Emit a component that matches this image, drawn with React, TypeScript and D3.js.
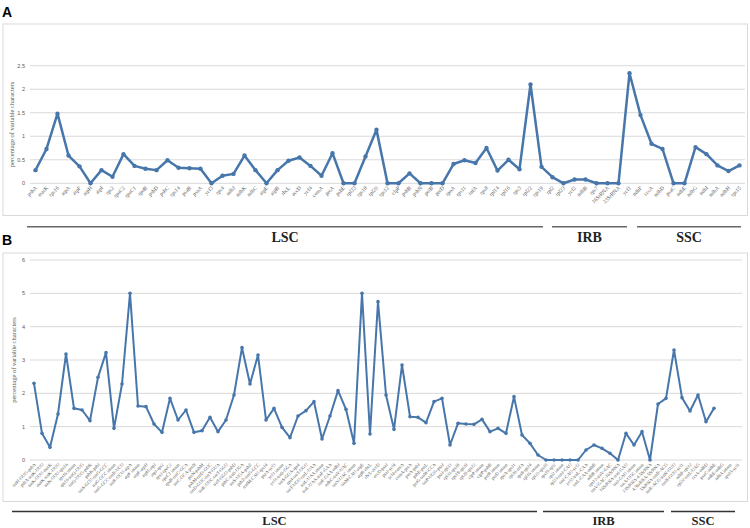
import React from 'react';
import * as d3 from 'd3';

// panel A: genes
const genesA = ['psbA', 'matK', 'rps16', 'atpA', 'atpF', 'atpH', 'atpI', 'rps2', 'rpoC2', 'rpoC1', 'rpoB', 'psbD', 'psbC', 'rps14', 'psaB', 'psaA', 'ycf3', 'rps4', 'ndhJ', 'ndhK', 'ndhC', 'atpE', 'atpB', 'rbcL', 'accD', 'ycf4', 'cemA', 'petA', 'psbE', 'rpl33', 'rps18', 'rpl20', 'rps12', 'clpP', 'psbB', 'psbN', 'petB', 'petD', 'rpoA', 'rps11', 'infA', 'rps8', 'rpl14', 'rpl16', 'rps3', 'rpl22', 'rps19', 'rpl2', 'rpl23', 'ycf2', 'ndhB', 'rps7', '16SrRNA', '23SrRNA', 'ycf1', 'ndhF', 'ccsA', 'ndhD', 'psaC', 'ndhE', 'ndhG', 'ndhI', 'ndhA', 'ndhH', 'rps15'];
const valuesA = [0.28, 0.73, 1.48, 0.59, 0.36, 0, 0.28, 0.14, 0.62, 0.37, 0.31, 0.28, 0.49, 0.33, 0.32, 0.31, 0, 0.16, 0.2, 0.59, 0.28, 0, 0.28, 0.48, 0.55, 0.37, 0.16, 0.64, 0, 0, 0.57, 1.14, 0, 0, 0.21, 0, 0, 0, 0.41, 0.49, 0.43, 0.75, 0.27, 0.5, 0.3, 2.1, 0.35, 0.13, 0, 0.08, 0.08, 0, 0, 0, 2.34, 1.45, 0.84, 0.73, 0, 0, 0.77, 0.62, 0.38, 0.26, 0.38];
const ticksA = [0, 0.5, 1, 1.5, 2, 2.5];

// panel B: intergenic spacers and introns
const regionsB = ['trnH-GUG-psbA', 'psbA-trnK-UUU', 'trnK-UUU-matK', 'matK-trnK-UUU', 'trnK-UUU-rps16', 'rps16 intron', 'rps16-trnQ-UUG', 'trnQ-UUG-psbK', 'psbK-psbI', 'trnS-GCU-trnG-GCC', 'trnG-GCC intron', 'trnG-GCC-trnR-UCU', 'trnR-UCU-atpA', 'atpF intron', 'atpF-atpH', 'atpH-atpI', 'atpI-rps2', 'rps2-rpoC2', 'rpoC1 intron', 'rpoB-trnC-GCA', 'trnC-GCA-petN', 'petN-psbM', 'psbM-trnD-GUC', 'trnD-GUC-trnY-GUA', 'trnE-UUC-trnT-GGU', 'trnT-GGU-psbD', 'psbC-trnS-UGA', 'trnS-UGA-psbZ', 'psbZ-trnG-GCC', 'trnfM-CAU-rps14', 'psaA-ycf3', 'ycf3 intron', 'ycf3-trnS-GGA', 'trnS-GGA-rps4', 'rps4-trnT-UGU', 'trnT-UGU-trnL-UAA', 'trnL-UAA intron', 'trnL-UAA-trnF-GAA', 'trnF-GAA-ndhJ', 'ndhC-trnV-UAC', 'trnV-UAC intron', 'trnM-CAU-atpE', 'atpB-rbcL', 'rbcL-accD', 'accD-psaI', 'psaI-ycf4', 'ycf4-cemA', 'cemA-petA', 'petA-psbJ', 'psbE-petL', 'petG-trnW-CCA', 'trnP-UGG-psaJ', 'psaJ-rpl33', 'rpl33-rps18', 'rps18-rpl20', 'rpl20-rps12', 'clpP intron', 'clpP-psbB', 'petB intron', 'petD intron', 'rpoA-rps11', 'rpl36-infA', 'rps8-rpl14', 'rpl16 intron', 'rpl22-rps19', 'rps19-rpl2', 'rpl2 intron', 'rpl23-trnI-CAU', 'trnI-CAU-ycf2', 'ycf2-trnL-CAA', 'trnL-CAA-ndhB', 'ndhB intron', 'rps12-trnV-GAC', 'trnV-GAC-16SrRNA', '16SrRNA-trnI-GAU', 'trnI-GAU intron', 'trnA-UGC intron', '23SrRNA-4.5SrRNA', '4.5SrRNA-5SrRNA', '5SrRNA-trnR-ACG', 'trnR-ACG-trnN-GUU', 'trnN-GUU-ycf1', 'ndhF-rpl32', 'rpl32-trnL-UAG', 'ccsA-ndhD', 'psaC-ndhE', 'ndhE-ndhG', 'ndhA intron', 'rps15-ycf1'];
const valuesB = [2.3, 0.8, 0.38, 1.38, 3.18, 1.55, 1.5, 1.18, 2.48, 3.22, 0.95, 2.28, 5.0, 1.62, 1.6, 1.08, 0.83, 1.85, 1.2, 1.5, 0.83, 0.88, 1.28, 0.85, 1.2, 1.95, 3.37, 2.28, 3.15, 1.2, 1.55, 0.98, 0.67, 1.32, 1.48, 1.75, 0.63, 1.32, 2.08, 1.52, 0.5, 5.0, 0.78, 4.75, 1.95, 0.92, 2.85, 1.3, 1.28, 1.12, 1.75, 1.85, 0.45, 1.1, 1.08, 1.07, 1.22, 0.85, 0.95, 0.8, 1.9, 0.75, 0.5, 0.15, 0, 0, 0, 0, 0, 0.3, 0.45, 0.35, 0.2, 0, 0.8, 0.45, 0.85, 0, 1.68, 1.85, 3.3, 1.87, 1.47, 1.95, 1.15, 1.55];
const ticksB = [0, 1, 2, 3, 4, 5, 6];

const sections = ['LSC', 'IRB', 'SSC'];
// x extent of each section bar, panel A and B
const sectionSpanA = [[27, 543], [552, 627], [637, 741]];
const sectionSpanB = [[12, 537], [543, 664], [671, 735]];

const BLUE = '#4776ab';
const GRID = '#d9d9d9';
const TXT = '#595959';
const TITLE = 'percentage of variable characters';

function Panel({ names, values, ticks, yRange, xRange, frame, label, labelY, lw, r, fs, titleX, lineColor, sectionY, spans, secFs, secDy }) {
  const x = d3.scaleBand().domain(names).range(xRange);
  const y = d3.scaleLinear().domain([ticks[0], ticks[ticks.length - 1]]).range(yRange);
  const cx = (d) => x(d) + x.bandwidth() / 2;
  const line = d3.line().x((d, i) => cx(names[i])).y((d) => y(d));
  const y0 = y(0);
  return (
    <g>
      <text x={2} y={labelY} fontFamily="Liberation Sans, Arial" fontWeight="bold" fontSize={14} fill="#000">{label}</text>
      <rect x={frame[0]} y={frame[1]} width={frame[2] - frame[0]} height={frame[3] - frame[1]} fill="#fff" stroke={GRID} strokeWidth={1} />
      {ticks.map((t) => (
        <g key={t}>
          <line x1={xRange[0]} x2={xRange[1]} y1={y(t)} y2={y(t)} stroke={GRID} strokeWidth={1} />
          <text x={25} y={y(t) + 2} textAnchor="end" fontSize={5.5} fill={TXT} fontFamily="Liberation Sans, Arial">{t}</text>
        </g>
      ))}
      <text transform={`translate(${titleX},${(yRange[0] + yRange[1]) / 2}) rotate(-90)`} textAnchor="middle" fontSize={6.5} fill={TXT} fontFamily="Liberation Serif, Times New Roman">{TITLE}</text>
      <path d={line(values)} fill="none" stroke={BLUE} strokeWidth={lw} strokeLinejoin="round" />
      {values.map((v, i) => (
        <circle key={i} cx={cx(names[i])} cy={y(v)} r={r} fill={BLUE} />
      ))}
      {names.map((n) => (
        <text key={n} transform={`translate(${cx(n) + 2},${y0 + 5}) rotate(-45)`} textAnchor="end" fontSize={fs} fill={TXT} fontFamily="Liberation Serif, Times New Roman">{n}</text>
      ))}
      {sections.map((s, i) => (
        <g key={s}>
          <line x1={spans[i][0]} x2={spans[i][1]} y1={sectionY} y2={sectionY} stroke={lineColor} strokeWidth={1.6} />
          <text x={(spans[i][0] + spans[i][1]) / 2} y={sectionY + secDy} textAnchor="middle" fontFamily="Liberation Serif, Times New Roman" fontWeight="bold" fontSize={secFs} fill="#222">{s}</text>
        </g>
      ))}
    </g>
  );
}

export default function App() {
  return (
    <svg width={750} height={528} style={{ position: 'absolute', left: 0, top: 0, background: '#fff' }}>
      <rect width={750} height={528} fill="#fff" />
      <Panel names={genesA} values={valuesA} ticks={ticksA} yRange={[183.3, 65.7]} xRange={[30, 745]}
        frame={[3, 24, 747.5, 215.5]} label="A" labelY={17} lw={2.5} r={2.2} fs={5.5} titleX={14}
        lineColor="#666" sectionY={226.7} spans={sectionSpanA} secFs={14} secDy={15} />
      <Panel names={regionsB} values={valuesB} ticks={ticksB} yRange={[460, 260]} xRange={[30, 742]}
        frame={[3, 253, 747.5, 501.5]} label="B" labelY={245} lw={2} r={1.8} fs={4.6} titleX={16}
        lineColor="#333" sectionY={511.5} spans={sectionSpanB} secFs={12.5} secDy={13} />
    </svg>
  );
}
